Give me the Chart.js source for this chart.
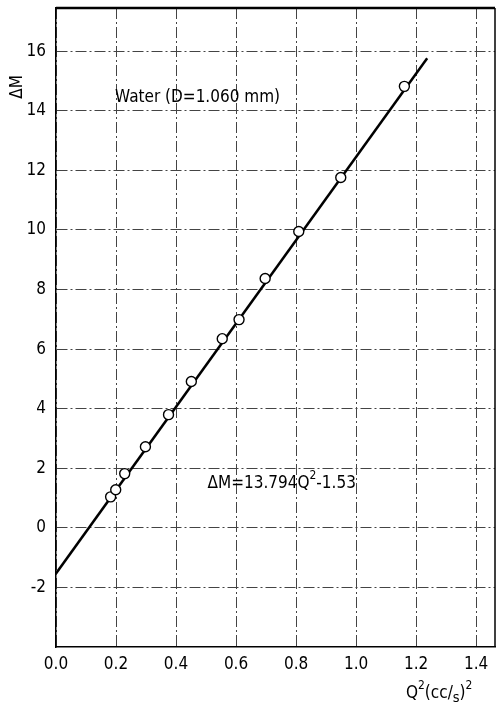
<!DOCTYPE html>
<html>
<head>
<meta charset="utf-8">
<script src="https://cdn.jsdelivr.net/npm/chart.js@4"></script>
<style>
  html, body { margin: 0; padding: 0; background: #fff; }
  #wrap { width: 497px; height: 710px; position: relative; }
</style>
</head>
<body>
<div id="wrap"><canvas id="c" width="497" height="710"></canvas></div>
<script>
// ---- data ----
const pointsQ2 = [0.182, 0.199, 0.229, 0.298, 0.375, 0.451, 0.554, 0.610, 0.697, 0.809, 0.949, 1.161];
const pointsDM = [1.04, 1.28, 1.82, 2.72, 3.80, 4.91, 6.35, 6.99, 8.37, 9.95, 11.76, 14.82];
const fitLineQ2 = [0, 1.237];
const fitLineDM = [-1.53, 15.76];
const xTicks = [0, 0.2, 0.4, 0.6, 0.8, 1.0, 1.2, 1.4];
const yTicks = [-2, 0, 2, 4, 6, 8, 10, 12, 14, 16];
const xRange = [0, 1.463];
const yRange = [-4, 17.45];
const seriesLabel = 'Water (D=1.060 mm)';
const yTitle = 'ΔM';

const FONT = '"DejaVu Sans Condensed", "DejaVu Sans", sans-serif';

const pts = pointsQ2.map((q, i) => ({ x: q, y: pointsDM[i] }));
const linePts = fitLineQ2.map((q, i) => ({ x: q, y: fitLineDM[i] }));

function drawRich(ctx, parts, x, y, size) {
  let cx = x;
  for (const [t, mode] of parts) {
    let fs = size, dy = 0;
    if (mode === 'sup') { fs = size * 0.7; dy = -size * 0.45; }
    if (mode === 'sub') { fs = size * 0.85; dy = size * 0.25; }
    ctx.font = fs + 'px ' + FONT;
    ctx.fillText(t, cx, y + dy);
    cx += ctx.measureText(t).width;
  }
}

const decor = {
  id: 'decor',
  afterDraw(chart) {
    const { ctx, chartArea: a, scales: { x, y } } = chart;
    ctx.save();
    ctx.strokeStyle = '#000';
    ctx.lineWidth = 2.5;
    ctx.beginPath(); ctx.moveTo(a.left, a.top); ctx.lineTo(a.right, a.top); ctx.stroke();
    ctx.lineWidth = 1.5;
    ctx.beginPath(); ctx.moveTo(a.right, a.top); ctx.lineTo(a.right, a.bottom); ctx.stroke();

    ctx.fillStyle = '#000';
    ctx.textBaseline = 'middle';
    ctx.textAlign = 'left';
    ctx.font = '17px ' + FONT;
    ctx.fillText(seriesLabel, x.getPixelForValue(0.197), y.getPixelForValue(14.45));
    drawRich(ctx, [['ΔM=13.794Q', 'n'], ['2', 'sup'], ['-1.53', 'n']],
      x.getPixelForValue(0.505), y.getPixelForValue(1.5), 17);
    ctx.save();
    ctx.translate(18, y.getPixelForValue(14.8));
    ctx.rotate(-Math.PI / 2);
    ctx.textAlign = 'center';
    ctx.font = '17px ' + FONT;
    ctx.fillText(yTitle, 0, 0);
    ctx.restore();
    drawRich(ctx, [['Q', 'n'], ['2', 'sup'], ['(cc/', 'n'], ['s', 'sub'], [')', 'n'], ['2', 'sup']],
      406, 694, 17);
    ctx.restore();
  }
};

new Chart(document.getElementById('c'), {
  data: {
    datasets: [
      {
        type: 'line', data: linePts, borderColor: '#000', borderWidth: 2.5,
        pointRadius: 0, fill: false, order: 2
      },
      {
        type: 'scatter', data: pts, pointRadius: 5, pointBackgroundColor: '#fff',
        pointBorderColor: '#000', pointBorderWidth: 1.4, order: 1
      }
    ]
  },
  options: {
    responsive: false,
    animation: false,
    layout: { autoPadding: false, padding: { top: 8, right: 2, left: 0, bottom: 0 } },
    plugins: { legend: { display: false }, tooltip: { enabled: false } },
    scales: {
      x: {
        type: 'linear', min: xRange[0], max: xRange[1],
        afterBuildTicks: s => { s.ticks = xTicks.map(v => ({ value: v })); },
        afterFit: s => { s.height = 63; s.paddingLeft = 0; s.paddingRight = 0; },
        ticks: {
          callback: v => v.toFixed(1), color: '#000', padding: 7,
          font: { family: FONT, size: 17 }, maxRotation: 0, autoSkip: false
        },
        grid: { color: '#444', lineWidth: 1, drawTicks: false },
        border: { display: true, color: '#000', width: 1.5, dash: [11, 3, 2, 3] }
      },
      y: {
        type: 'linear', min: yRange[0], max: yRange[1],
        afterBuildTicks: s => { s.ticks = yTicks.map(v => ({ value: v })); },
        afterFit: s => { s.width = 56; s.paddingTop = 0; s.paddingBottom = 0; },
        ticks: {
          callback: v => String(v), color: '#000', padding: 10,
          font: { family: FONT, size: 17 }, autoSkip: false
        },
        grid: { color: '#444', lineWidth: 1, drawTicks: false },
        border: { display: true, color: '#000', width: 1.5, dash: [11, 3, 2, 3] }
      }
    }
  },
  plugins: [decor]
});
</script>
</body>
</html>
